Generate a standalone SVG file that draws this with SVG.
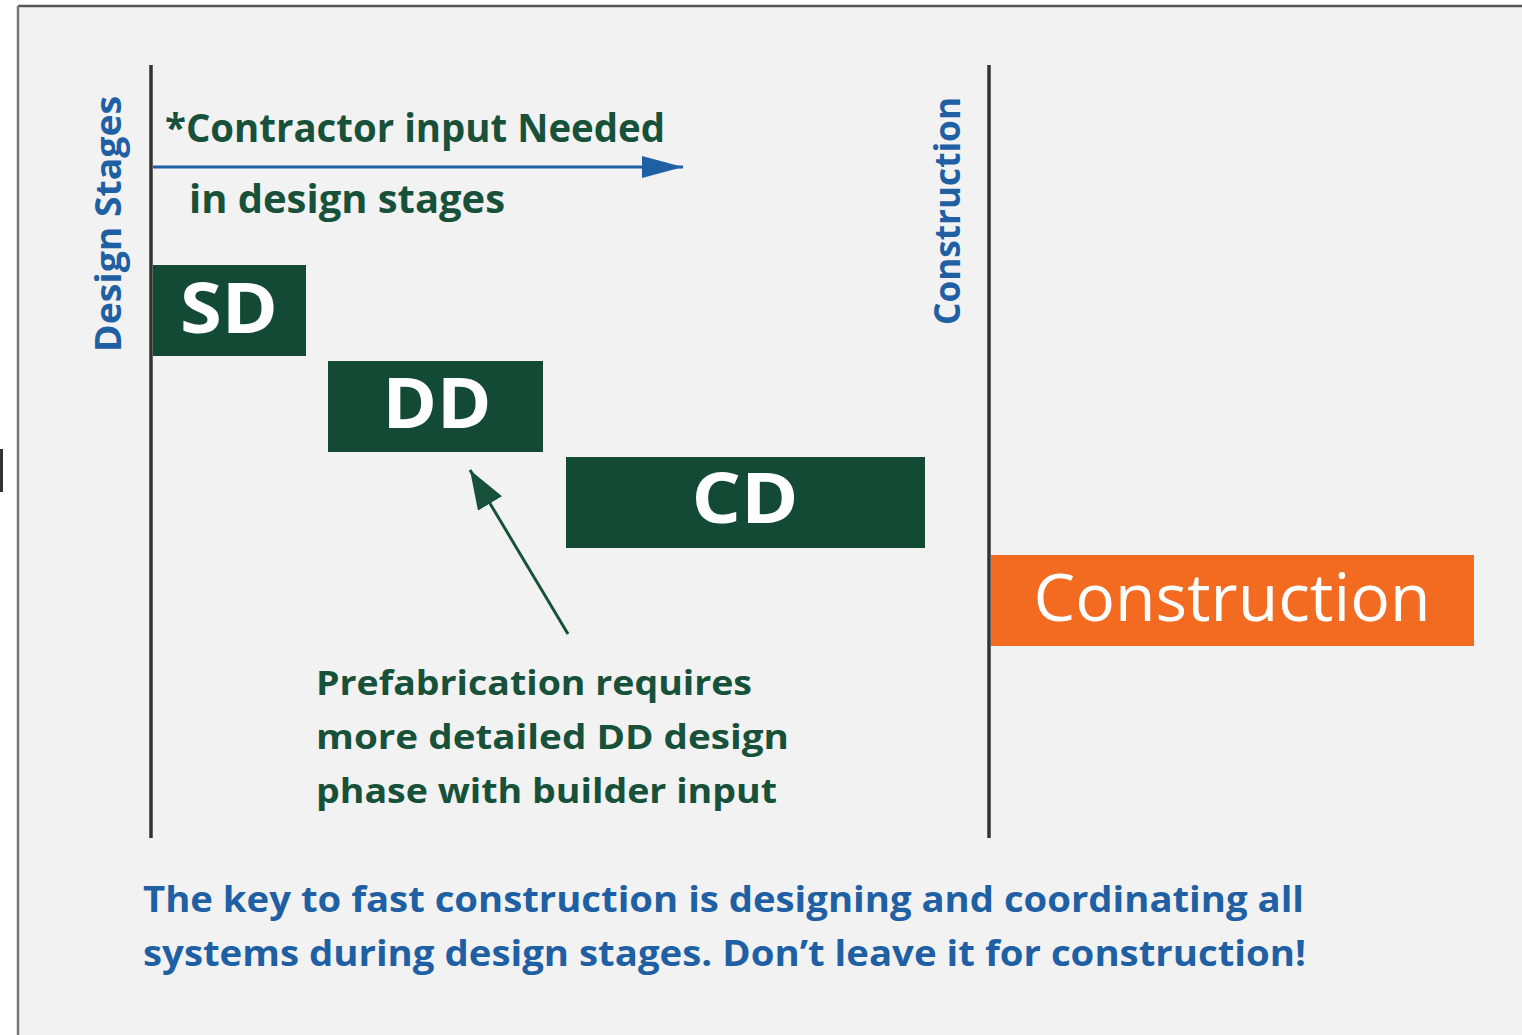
<svg xmlns="http://www.w3.org/2000/svg" width="1522" height="1035" viewBox="0 0 1522 1035">
<style>
.bold{font-family:"Open Sans","Liberation Sans",sans-serif;font-weight:700}
.green{fill:#17513a}
.blue{fill:#1f5fa3}
.box{fill:#124a35}
.boxtxt{fill:#ffffff;font-family:"Open Sans","Liberation Sans",sans-serif;font-weight:700;font-size:70px;text-anchor:middle}
.axis{stroke:#333333;stroke-width:3.5;fill:none}
</style>
<defs>
<marker id="blueHead" markerUnits="userSpaceOnUse" markerWidth="42" markerHeight="22" refX="41" refY="11" orient="auto">
<path d="M0,0 L41,11 L0,22 Z" fill="#1f5fa3"/>
</marker>
<marker id="greenHead" markerUnits="userSpaceOnUse" markerWidth="40" markerHeight="28" refX="39" refY="14" orient="auto">
<path d="M0,0 L39,14 L0,28 Z" fill="#17513a"/>
</marker>
</defs>
<rect x="0" y="0" width="1522" height="1035" fill="#ffffff"/>
<rect x="18" y="6" width="1504" height="1029" fill="#f2f2f2"/>
<line x1="18" y1="6" x2="1522" y2="6" stroke="#555555" stroke-width="2.5"/>
<line x1="18" y1="6" x2="18" y2="1035" stroke="#777777" stroke-width="2.5"/>
<rect x="0" y="449" width="3" height="43" fill="#333333"/>

<g id="axes">
<line class="axis" x1="151" y1="65" x2="151" y2="838"/>
<line class="axis" x1="989" y1="65" x2="989" y2="838"/>
</g>

<g id="label-design-stages">
<text class="bold blue" font-size="35" transform="translate(121,352) rotate(-90)" textLength="256" lengthAdjust="spacingAndGlyphs">Design Stages</text>
</g>
<g id="label-construction-axis">
<text class="bold blue" font-size="35" transform="translate(960,325) rotate(-90)" textLength="228" lengthAdjust="spacingAndGlyphs">Construction</text>
</g>

<g id="contractor-note">
<text class="bold green" x="165" y="142" font-size="40" textLength="500" lengthAdjust="spacingAndGlyphs">*Contractor input Needed</text>
<text class="bold green" x="189" y="213" font-size="40" textLength="316" lengthAdjust="spacingAndGlyphs">in design stages</text>
</g>

<g id="node-SD">
<rect class="box" x="153" y="265" width="153" height="91"/>
<text class="boxtxt" x="229" y="333" textLength="98" lengthAdjust="spacingAndGlyphs">SD</text>
</g>
<g id="node-DD">
<rect class="box" x="328" y="361" width="215" height="91"/>
<text class="boxtxt" x="437" y="428" textLength="109" lengthAdjust="spacingAndGlyphs">DD</text>
</g>
<g id="node-CD">
<rect class="box" x="566" y="457" width="359" height="91"/>
<text class="boxtxt" x="745" y="523" textLength="107" lengthAdjust="spacingAndGlyphs">CD</text>
</g>
<g id="node-construction">
<rect x="991" y="555" width="483" height="91" fill="#f26b21"/>
<text x="1232" y="621" fill="#ffffff" font-family="'Open Sans','Liberation Sans',sans-serif" font-size="66" text-anchor="middle" textLength="397" lengthAdjust="spacingAndGlyphs">Construction</text>
</g>

<g id="prefab-note">
<text class="bold green" font-size="34">
<tspan x="316" y="695" textLength="436" lengthAdjust="spacingAndGlyphs">Prefabrication requires</tspan>
<tspan x="316" y="749" textLength="473" lengthAdjust="spacingAndGlyphs">more detailed DD design</tspan>
<tspan x="316" y="803" textLength="461" lengthAdjust="spacingAndGlyphs">phase with builder input</tspan>
</text>
</g>

<g id="bottom-note">
<text class="bold blue" font-size="36">
<tspan x="143" y="912" textLength="1161" lengthAdjust="spacingAndGlyphs">The key to fast construction is designing and coordinating all</tspan>
<tspan x="143" y="966" textLength="1163" lengthAdjust="spacingAndGlyphs">systems during design stages. Don’t leave it for construction!</tspan>
</text>
</g>

<g id="connectors">
<line x1="153" y1="167" x2="683" y2="167" stroke="#1f5fa3" stroke-width="3" marker-end="url(#blueHead)"/>
<line x1="568" y1="634" x2="470" y2="470" stroke="#17513a" stroke-width="3" marker-end="url(#greenHead)"/>
</g>
</svg>
